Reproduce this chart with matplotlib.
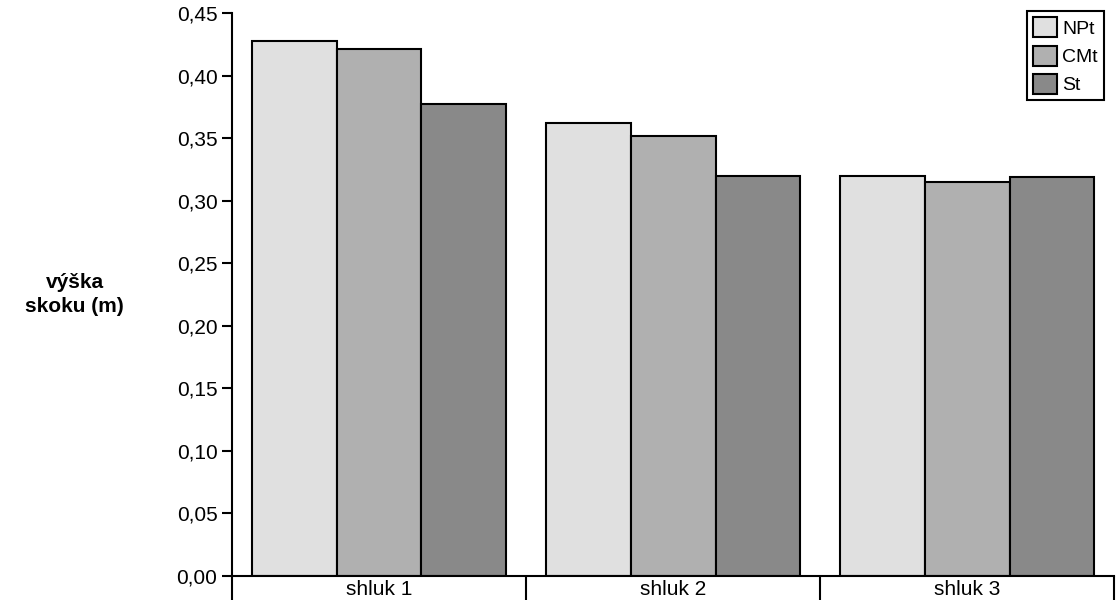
import numpy as np
import matplotlib.pyplot as plt

clusters = ['shluk 1', 'shluk 2', 'shluk 3']
series = ['NPt', 'CMt', 'St']
npt = [0.428, 0.362, 0.320]
cmt = [0.421, 0.352, 0.315]
st = [0.377, 0.320, 0.319]
colors = ['#e0e0e0', '#b0b0b0', '#898989']

plt.rcParams['font.family'] = 'Liberation Sans'
fig = plt.figure(figsize=(11.17, 6.14), dpi=100)
ax = fig.add_axes([0.2077, 0.0619, 0.790, 0.9169])

x = np.arange(len(clusters))
w = 0.288
for i, (vals, name) in enumerate(zip([npt, cmt, st], series)):
    ax.bar(x + (i - 1) * w, vals, w, color=colors[i], edgecolor='black',
           linewidth=1.5, label=name)

ax.set_xlim(-0.5, 2.5)
ax.set_ylim(0, 0.45)
ax.set_yticks(np.arange(0, 0.451, 0.05))
ax.set_yticklabels([f'{v:.2f}'.replace('.', ',') for v in np.arange(0, 0.451, 0.05)])
ax.tick_params(axis='y', labelsize=15, length=7, width=1.5, direction='out')

ax.set_xticks([-0.5, 0.5, 1.5, 2.5])
ax.set_xticklabels([])
ax.tick_params(axis='x', which='major', length=17, width=1.5)
ax.set_xticks(x, minor=True)
ax.set_xticklabels(clusters, minor=True)
ax.tick_params(axis='x', which='minor', length=0, labelsize=15, pad=3)

ax.spines['top'].set_visible(False)
ax.spines['right'].set_visible(False)
ax.spines['left'].set_linewidth(1.5)
ax.spines['bottom'].set_linewidth(1.5)

fig.text(0.067, 0.52, 'výška\nskoku (m)', ha='center', va='center',
         fontsize=15, fontweight='bold', linespacing=1.3)

leg = ax.legend(loc='upper right', bbox_to_anchor=(0.999, 1.02), fontsize=14,
                handlelength=1.2, handleheight=1.2, fancybox=False,
                edgecolor='black', framealpha=1, borderpad=0.3,
                handletextpad=0.3, labelspacing=0.4)
leg.get_frame().set_linewidth(1.5)

fig.savefig('out.png', dpi=100)
